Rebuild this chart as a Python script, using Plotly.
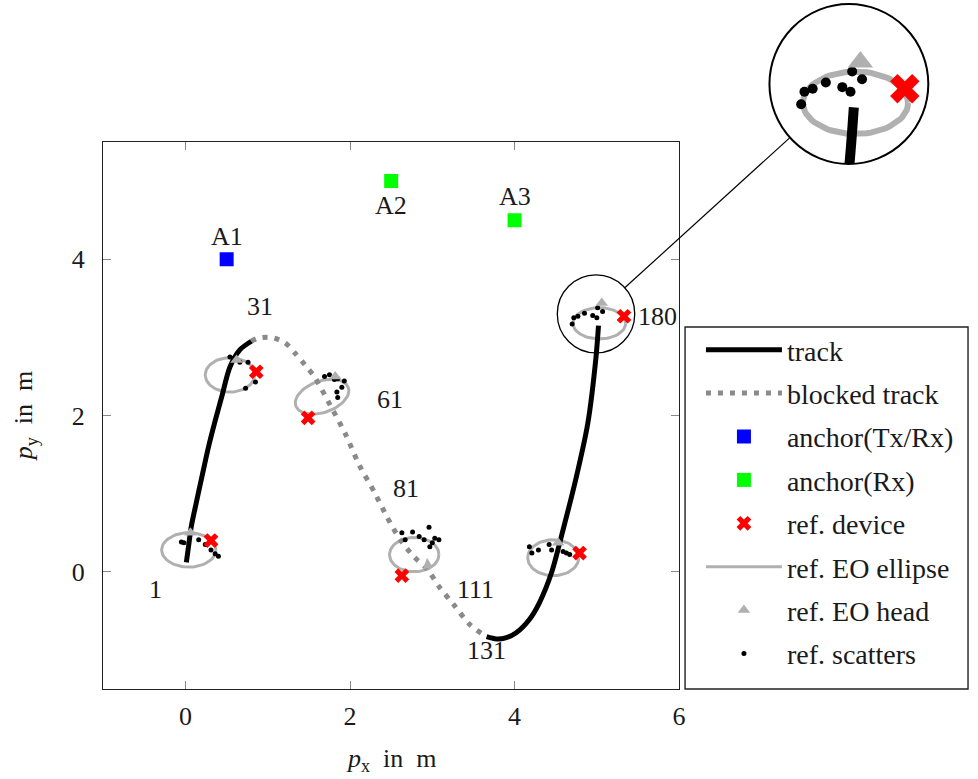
import numpy as np
import plotly.graph_objects as go

# ---------------- data ----------------
track_a_x = [0.01, 0.04, 0.07, 0.13, 0.20, 0.28, 0.36, 0.44, 0.54, 0.66, 0.80]
track_a_y = [0.12, 0.35, 0.58, 0.88, 1.22, 1.60, 1.93, 2.24, 2.62, 2.84, 2.95]

blocked_x = [0.80, 0.88, 1.04, 1.21, 1.33, 1.45, 1.57, 1.76, 1.95, 2.11, 2.30, 2.45,
             2.61, 2.78, 2.94, 3.09, 3.26, 3.46, 3.66]
blocked_y = [2.95, 2.99, 3.00, 2.93, 2.80, 2.65, 2.49, 2.13, 1.75, 1.37, 1.01, 0.70,
             0.41, 0.19, 0.03, -0.20, -0.42, -0.68, -0.83]

track_b_x = [3.66, 3.78, 3.88, 4.02, 4.18, 4.30, 4.45, 4.59, 4.75, 4.89, 4.99, 5.02]
track_b_y = [-0.83, -0.86, -0.85, -0.78, -0.61, -0.40, -0.01, 0.54, 1.21, 1.90, 2.75, 3.15]

anchor_tx_x = [0.5]
anchor_tx_y = [4.0]
anchor_rx_x = [2.5, 4.0]
anchor_rx_y = [5.0, 4.5]
anchor_names = ["A1", "A2", "A3"]
anchor_label_x = [0.5, 2.5, 4.0]
anchor_label_y = [4.29, 4.69, 4.80]

device_x = [0.31, 0.86, 1.49, 2.63, 4.79, 5.33]
device_y = [0.40, 2.56, 1.97, -0.05, 0.24, 3.27]

ell_cx = [0.04, 0.54, 1.66, 2.78, 4.47, 5.03]
ell_cy = [0.28, 2.52, 2.24, 0.22, 0.18, 3.18]
ell_a = [0.33, 0.30, 0.34, 0.30, 0.31, 0.32]
ell_b = [0.22, 0.22, 0.20, 0.22, 0.23, 0.20]
ell_rot = [0, 0, 21, 0, 0, 0]

head_x = [0.06, 0.62, 1.82, 2.94, 4.53, 5.06]
head_y = [0.50, 2.71, 2.50, 0.09, 0.37, 3.44]
head_angle = [0, 0, 0, 110, 0, 0]

scat_x = [-0.05, -0.02, 0.16, 0.24, 0.31, 0.36, 0.40,
          0.54, 0.58, 0.66, 0.76, 0.85, 0.73,
          1.69, 1.75, 1.81, 1.85, 1.93, 1.90, 1.84, 1.85,
          2.63, 2.67, 2.76, 2.84, 2.90, 2.96, 3.00, 3.03, 3.08, 2.97,
          4.18, 4.21, 4.29, 4.42, 4.45, 4.59, 4.63, 4.67,
          4.70, 4.72, 4.77, 4.85, 4.95, 5.00, 5.01, 5.07]
scat_y = [0.38, 0.37, 0.41, 0.35, 0.28, 0.23, 0.20,
          2.75, 2.73, 2.68, 2.68, 2.43, 2.35,
          2.50, 2.52, 2.46, 2.47, 2.44, 2.36, 2.30, 2.23,
          0.50, 0.41, 0.51, 0.45, 0.41, 0.57, 0.37, 0.43, 0.41, 0.32,
          0.32, 0.24, 0.28, 0.35, 0.28, 0.26, 0.24, 0.22,
          3.17, 3.25, 3.27, 3.31, 3.28, 3.25, 3.38, 3.33]

index_labels = ["1", "31", "61", "81", "111", "131", "180"]
index_label_x = [-0.36, 0.91, 2.48, 2.68, 3.52, 3.66, 5.74]
index_label_y = [-0.23, 3.39, 2.20, 1.06, -0.23, -1.01, 3.27]

x_ticks = [0, 2, 4, 6]
y_ticks = [0, 2, 4]
x_range = [-1, 6]
y_range = [-1.5, 5.5]

# spy (zoom) settings
spy_center = (4.99, 3.30)
spy_mag = 2.0

# ---------------- layout geometry (pixels) ----------------
W, H = 978, 779
PL, PR, PT, PB = 104, 684, 142, 689
SERIF = "Liberation Serif"
FS = 26
TXT = "#1a1a1a"

def fx(px):
    return px / W

def fy(py):
    return 1 - py / H

sx = (PR - PL) / (x_range[1] - x_range[0])
sy = (PB - PT) / (y_range[1] - y_range[0])

def ellipse_pts(cx, cy, a, b, rot):
    t = np.linspace(0, 2 * np.pi, 80)
    r = np.deg2rad(rot)
    ex = a * np.cos(t)
    ey = b * np.sin(t)
    xs = cx + ex * np.cos(r) - ey * np.sin(r)
    ys = cy + ex * np.sin(r) + ey * np.cos(r)
    return list(xs) + [None], list(ys) + [None]

ex_all, ey_all = [], []
for i in range(len(ell_cx)):
    a, b = ellipse_pts(ell_cx[i], ell_cy[i], ell_a[i], ell_b[i], ell_rot[i])
    ex_all += a
    ey_all += b

track_x = track_a_x + [None] + track_b_x
track_y = track_a_y + [None] + track_b_y

GRAY = "#b0b0b0"
DOT = "#8a8a8a"

fig = go.Figure()

def add_set(xa, ya, k, show):
    # k: scale factor for styling (used for the magnified inset)
    fig.add_trace(go.Scatter(x=ex_all, y=ey_all, mode="lines", name="ref. EO ellipse",
                             line=dict(color=GRAY, width=3 * k), showlegend=show,
                             legendrank=6, legendgroup="g6", xaxis=xa, yaxis=ya,
                             hoverinfo="skip"))
    fig.add_trace(go.Scatter(x=blocked_x, y=blocked_y, mode="lines", name="blocked track",
                             line=dict(color=DOT, width=5 * k, dash="%dpx,%dpx" % (5 * k, 7 * k),
                                       shape="spline", smoothing=0.8),
                             showlegend=show, legendrank=2, legendgroup="g2",
                             xaxis=xa, yaxis=ya))
    fig.add_trace(go.Scatter(x=track_x, y=track_y, mode="lines", name="track",
                             line=dict(color="black", width=5 * k, shape="spline", smoothing=0.8),
                             showlegend=show, legendrank=1, legendgroup="g1",
                             xaxis=xa, yaxis=ya))
    fig.add_trace(go.Scatter(x=scat_x, y=scat_y, mode="markers", name="ref. scatters",
                             marker=dict(color="black", size=5 * k), showlegend=show,
                             legendrank=8, legendgroup="g8", xaxis=xa, yaxis=ya))
    fig.add_trace(go.Scatter(x=head_x, y=head_y, mode="markers", name="ref. EO head",
                             marker=dict(color=GRAY, size=11 * k, symbol="triangle-up",
                                         angle=head_angle),
                             showlegend=show, legendrank=7, legendgroup="g7",
                             xaxis=xa, yaxis=ya))
    fig.add_trace(go.Scatter(x=device_x, y=device_y, mode="markers", name="ref. device",
                             marker=dict(color="#ff0000", size=13 * k, symbol="x",
                                         line=dict(width=0)),
                             showlegend=show, legendrank=5, legendgroup="g5",
                             xaxis=xa, yaxis=ya))

add_set("x", "y", 1, True)

fig.add_trace(go.Scatter(x=anchor_tx_x, y=anchor_tx_y, mode="markers", name="anchor(Tx/Rx)",
                         marker=dict(color="#0000ff", size=14, symbol="square"),
                         legendrank=3, legendgroup="g3"))
fig.add_trace(go.Scatter(x=anchor_rx_x, y=anchor_rx_y, mode="markers", name="anchor(Rx)",
                         marker=dict(color="#00ff00", size=14, symbol="square"),
                         legendrank=4, legendgroup="g4"))

add_set("x2", "y2", spy_mag, False)

annotations = []
for t, x, y in zip(anchor_names, anchor_label_x, anchor_label_y):
    annotations.append(dict(x=x, y=y, xref="x", yref="y", text=t, showarrow=False,
                            xanchor="center", yanchor="middle",
                            font=dict(family=SERIF, size=FS, color=TXT)))
for t, x, y in zip(index_labels, index_label_x, index_label_y):
    annotations.append(dict(x=x, y=y, xref="x", yref="y", text=t, showarrow=False,
                            xanchor="center", yanchor="middle",
                            font=dict(family=SERIF, size=FS, color=TXT)))
annotations.append(dict(x=fx((PL + PR) / 2), y=fy(760), xref="paper", yref="paper",
                        text="<i>p</i><sub>x</sub>  in  m", showarrow=False,
                        xanchor="center", yanchor="middle",
                        font=dict(family=SERIF, size=FS, color=TXT)))
annotations.append(dict(x=fx(25), y=fy((PT + PB) / 2), xref="paper", yref="paper",
                        text="<i>p</i><sub>y</sub>  in  m", showarrow=False, textangle=-90,
                        xanchor="center", yanchor="middle",
                        font=dict(family=SERIF, size=FS, color=TXT)))

# spy geometry
small_r_px = 39
big_cx, big_cy, big_r = 855, 84, 80
scx_px = PL + (spy_center[0] - x_range[0]) * sx
scy_px = PB - (spy_center[1] - y_range[0]) * sy
dx, dy = big_cx - scx_px, big_cy - scy_px
dn = (dx ** 2 + dy ** 2) ** 0.5
ux, uy = dx / dn, dy / dn

# legend box geometry
LB_L, LB_R, LB_T, LB_B = 690, 975, 327, 689

shapes = [
    dict(type="rect", xref="paper", yref="paper",
         x0=fx(LB_L), x1=fx(LB_R), y0=fy(LB_B), y1=fy(LB_T),
         line=dict(color="#222", width=1.4), fillcolor="white", layer="below"),
    dict(type="circle", xref="x", yref="y",
         x0=spy_center[0] - small_r_px / sx, x1=spy_center[0] + small_r_px / sx,
         y0=spy_center[1] - small_r_px / sy, y1=spy_center[1] + small_r_px / sy,
         line=dict(color="black", width=1.3)),
    dict(type="circle", xref="paper", yref="paper",
         x0=fx(big_cx - big_r), x1=fx(big_cx + big_r),
         y0=fy(big_cy + big_r), y1=fy(big_cy - big_r),
         line=dict(color="black", width=2), layer="above"),
    dict(type="line", xref="paper", yref="paper",
         x0=fx(scx_px + ux * small_r_px), y0=fy(scy_px + uy * small_r_px),
         x1=fx(big_cx - ux * big_r), y1=fy(big_cy - uy * big_r),
         line=dict(color="black", width=1.2), layer="above"),
]

axis_common = dict(showline=True, linecolor="#222", linewidth=1.4, mirror="ticks",
                   ticks="inside", ticklen=8, tickwidth=1, tickcolor="#888",
                   showgrid=False, zeroline=False,
                   tickfont=dict(family=SERIF, size=FS, color=TXT))

half_x = big_r / (sx * spy_mag)
half_y = big_r / (sy * spy_mag)

fig.update_layout(
    width=W, height=H,
    margin=dict(l=0, r=0, t=0, b=0),
    paper_bgcolor="white", plot_bgcolor="rgba(0,0,0,0)",
    xaxis=dict(domain=[fx(PL), fx(PR)], range=x_range, tickvals=x_ticks,
               ticklabelstandoff=4, anchor="y", **axis_common),
    yaxis=dict(domain=[fy(PB), fy(PT)], range=y_range, tickvals=y_ticks,
               ticklabelstandoff=12, anchor="x", **axis_common),
    xaxis2=dict(domain=[fx(big_cx - big_r), fx(big_cx + big_r)],
                range=[spy_center[0] - half_x, spy_center[0] + half_x],
                visible=False, anchor="y2"),
    yaxis2=dict(domain=[fy(big_cy + big_r), fy(big_cy - big_r)],
                range=[spy_center[1] - half_y, spy_center[1] + half_y],
                visible=False, anchor="x2"),
    legend=dict(x=fx(706), y=fy(LB_T - 2), xanchor="left", yanchor="top",
                bgcolor="rgba(0,0,0,0)", borderwidth=0,
                font=dict(family=SERIF, size=28, color=TXT),
                itemwidth=76, tracegroupgap=4, traceorder="grouped"),
    annotations=annotations,
    shapes=shapes,
    showlegend=True,
)

fig.write_html("out.html")
